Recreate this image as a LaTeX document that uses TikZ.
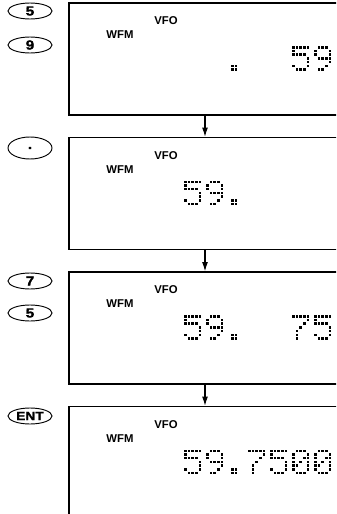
\documentclass[tikz,border=0pt]{standalone}
\usepackage{fontspec}
\setmainfont{Liberation Sans}
\newfontfamily\keyfont[FakeBold=1.5, FakeStretch=1.15]{Liberation Sans Bold}
\usetikzlibrary{shapes.geometric,arrows.meta}

% ドットマトリクス文字 (列/行)
\def\dotfive{0/0,1/0,2/0,3/0,4/0,0/1,0/2,1/2,2/2,3/2,4/3,4/4,0/5,4/5,1/6,2/6,3/6}
\def\dotnine{1/0,2/0,3/0,0/1,4/1,0/2,4/2,1/3,2/3,3/3,4/3,4/4,3/5,1/6,2/6}
\def\dotseven{0/0,1/0,2/0,3/0,4/0,4/1,3/2,2/3,1/4,1/5,1/6}
\def\dotzero{1/0,2/0,3/0,0/1,4/1,0/2,3/2,4/2,0/3,2/3,4/3,0/4,1/4,4/4,0/5,4/5,1/6,2/6,3/6}
\def\dotpoint{0/5,1/5,0/6,1/6}
\newcommand\lcdchar[3]{\foreach \dx/\dy in #3 \fill[lcddot] ({#1+\dx*3.7},{#2+\dy*3.7}) rectangle ++(2.5,2.5);}

\tikzset{
    disp/.style={draw, line width=1pt, minimum width=204pt, minimum height=84pt, inner sep=0pt},
    key/.style={ellipse, draw, line width=0.7pt, minimum width=33pt, minimum height=12pt, inner sep=0pt, font=\keyfont\fontsize{10}{10}\selectfont},
    lbl/.style={font=\bfseries\fontsize{8.5}{8.5}\selectfont, inner sep=0pt},
    lcddot/.style={fill=black},
    flow/.style={line width=0.8pt, -{Latex[length=7pt,width=4.5pt]}}
}

\begin{document}
\begin{tikzpicture}[x=0.75pt, y=-0.75pt]
    \clip (0,0) rectangle (336,514);

    % 表示枠
    \node[disp] (dispA) at (205,59) {};
    \node[disp] (dispB) at (205,193.5) {};
    \node[disp] (dispC) at (205,328) {};
    \node[disp] (dispD) at (205,462.5) {};

    % 矢印
    \draw[flow] (dispA.south) -- (dispB.north);
    \draw[flow] (dispB.south) -- (dispC.north);
    \draw[flow] (dispC.south) -- (dispD.north);

    % キー
    \node[key] (keyfiveA) at (30,11) {5};
    \node[key] (keynine) at (30,45) {9};
    \node[key, minimum height=16.5pt] (keypoint) at (30,148) {.};
    \node[key] (keyseven) at (30,281) {7};
    \node[key] (keyfiveB) at (30,313) {5};
    \node[key, font=\keyfont\fontsize{9}{9}\selectfont] (keyent) at (30,416) {ENT};

    % VFO / WFM 表示
    \foreach \top [count=\i] in {3, 137.5, 272, 406.5} {
        \node[lbl] (vfo\i) at (166,\top+18) {VFO};
        \node[lbl] (wfm\i) at (120,\top+32) {WFM};
    }

    % 周波数 (ドット表示)
    \lcdchar{231}{46}{\dotpoint}
    \lcdchar{292}{46}{\dotfive}
    \lcdchar{314}{46}{\dotnine}

    \lcdchar{184}{180.5}{\dotfive}
    \lcdchar{206}{180.5}{\dotnine}
    \lcdchar{231}{180.5}{\dotpoint}

    \lcdchar{184}{315}{\dotfive}
    \lcdchar{206}{315}{\dotnine}
    \lcdchar{231}{315}{\dotpoint}
    \lcdchar{292}{315}{\dotseven}
    \lcdchar{314}{315}{\dotfive}

    \lcdchar{184}{449.5}{\dotfive}
    \lcdchar{206}{449.5}{\dotnine}
    \lcdchar{231}{449.5}{\dotpoint}
    \lcdchar{248}{449.5}{\dotseven}
    \lcdchar{270}{449.5}{\dotfive}
    \lcdchar{292}{449.5}{\dotzero}
    \lcdchar{314}{449.5}{\dotzero}
\end{tikzpicture}
\end{document}
